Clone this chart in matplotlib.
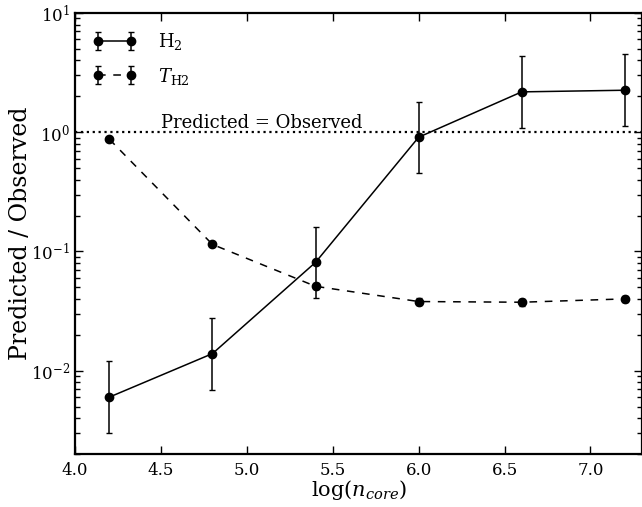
import numpy as np
import matplotlib
matplotlib.use('Agg')
import matplotlib.pyplot as plt

plt.rcParams['font.family'] = 'DejaVu Serif'
plt.rcParams['mathtext.fontset'] = 'dejavuserif'

# values
log_ncore = [4.2, 4.8, 5.4, 6.0, 6.6, 7.2]

h2_ratio = [0.0060, 0.0139, 0.081, 0.908, 2.18, 2.25]
h2_low = [0.0030, 0.0069, 0.0405, 0.452, 1.09, 1.13]
h2_high = [0.0120, 0.0277, 0.160, 1.81, 4.35, 4.55]

th2_ratio = [0.873, 0.1145, 0.051, 0.038, 0.0375, 0.040]
th2_low = [0.873, 0.1145, 0.048, 0.0355, 0.035, 0.0375]
th2_high = [0.873, 0.1145, 0.054, 0.0405, 0.040, 0.0425]

h2_err = [np.array(h2_ratio) - np.array(h2_low), np.array(h2_high) - np.array(h2_ratio)]
th2_err = [np.array(th2_ratio) - np.array(th2_low), np.array(th2_high) - np.array(th2_ratio)]

fig = plt.figure(figsize=(6.42, 5.07), dpi=100)
ax = fig.add_axes([75 / 642, 1 - 454 / 507, 567 / 642, 441 / 507])

ax.errorbar(log_ncore, h2_ratio, yerr=h2_err, fmt='o-', color='k', ms=6, lw=1.1,
            elinewidth=1.1, capsize=2.5, label=r'H$_2$')
line = ax.errorbar(log_ncore, th2_ratio, yerr=th2_err, fmt='o--', color='k', ms=6, lw=1.1,
                   elinewidth=1.1, capsize=2.5, label=r'$T_{\rm H2}$')
line[0].set_dashes((5, 5))
ax.axhline(1.0, color='k', ls=':', lw=1.6)
ax.text(4.5, 1.08, 'Predicted = Observed', fontsize=13, va='baseline')

ax.set_yscale('log')
ax.set_xlim(4.0, 7.3)
ax.set_ylim(2e-3, 10)
ax.set_xticks([4.0, 4.5, 5.0, 5.5, 6.0, 6.5, 7.0])
ax.tick_params(which='both', direction='in', top=True, right=True, labelsize=12)
ax.tick_params(which='major', length=6, width=1)
ax.tick_params(which='minor', length=3.5, width=1)
ax.tick_params(axis='x', which='both', pad=6)
for sp in ax.spines.values():
    sp.set_linewidth(1.6)

ax.set_xlabel(r'$\log(n_{core})$', fontsize=15, labelpad=-1)
ax.set_ylabel('Predicted / Observed', fontsize=17, labelpad=-1)

ax.legend(loc='upper left', frameon=False, numpoints=2, fontsize=13, handlelength=2.4,
          handletextpad=1.2, borderaxespad=0.6, labelspacing=0.75)

fig.savefig('out.png', dpi=100)
